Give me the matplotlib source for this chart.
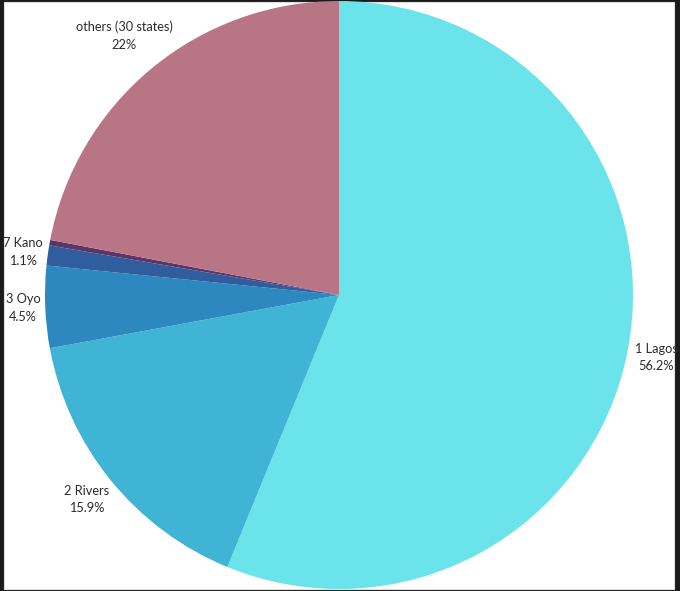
import matplotlib
matplotlib.use("Agg")
import numpy as np
import matplotlib.pyplot as plt
from matplotlib.patches import Rectangle

labels = ["1 Lagos\n56.2%", "2 Rivers\n15.9%", "3 Oyo\n4.5%", "7 Kano\n1.1%", "", "others (30 states)\n22%"]
values = [56.2, 15.9, 4.5, 1.1, 0.3, 22.0]
colors = ["#6ae4ea", "#40b4d4", "#2e88c0", "#2f5d9e", "#5b3468", "#b87586"]
label_dist = [1.10, 1.105, 1.076, 1.085, 1.1, 1.145]

W, H = 680, 591
fig = plt.figure(figsize=(W / 100, H / 100), dpi=100, facecolor="#1b1b1b")
fig.patches.append(Rectangle((4 / W, 2 / H), (674 - 4) / W, (589 - 2) / H,
                             transform=fig.transFigure, facecolor="white",
                             edgecolor="#dddddd", linewidth=0.8, zorder=-10))

cx, cy, r = 339, 295, 294
ax = fig.add_axes([(cx - r) / W, (H - cy - r) / H, 2 * r / W, 2 * r / H])
ax.set_zorder(5)
ax.patch.set_visible(False)
ax.axis("off")

wedges, texts = ax.pie(values, labels=labels, colors=colors, startangle=90,
                       counterclock=False, labeldistance=1.1,
                       wedgeprops=dict(linewidth=0),
                       textprops=dict(fontsize=9.2, color="#2b2b2b", family="Lato",
                                      ha="center", va="center", linespacing=1.55))
for w, t, d in zip(wedges, texts, label_dist):
    ang = np.deg2rad((w.theta1 + w.theta2) / 2)
    t.set_position((d * np.cos(ang), d * np.sin(ang)))
    t.set_horizontalalignment("center")
    t.set_verticalalignment("center")
ax.set_xlim(-1, 1)
ax.set_ylim(-1, 1)

fig.savefig("out.png", dpi=100, facecolor=fig.get_facecolor())
